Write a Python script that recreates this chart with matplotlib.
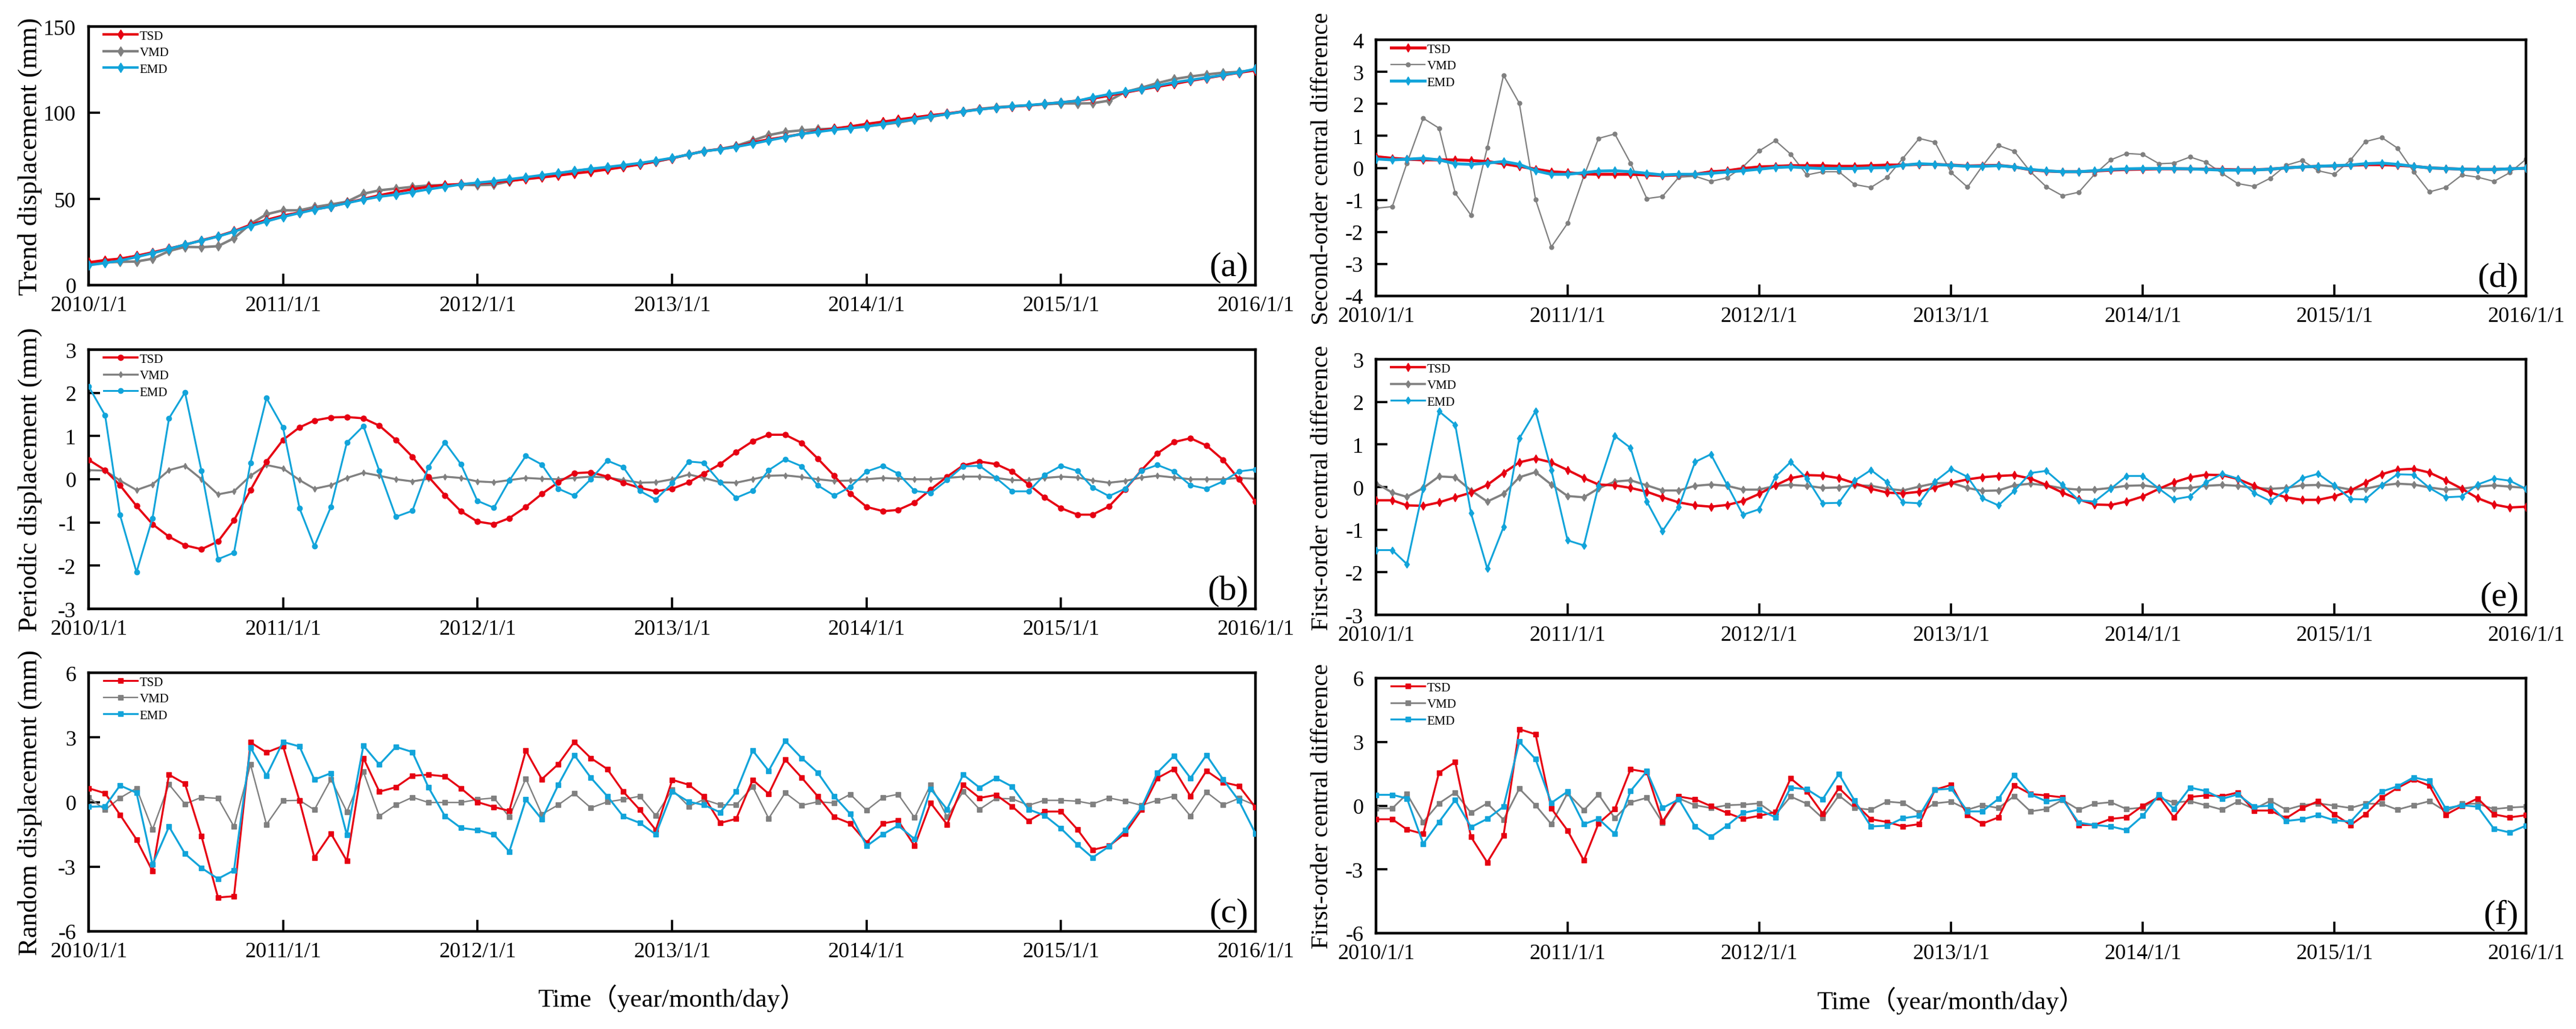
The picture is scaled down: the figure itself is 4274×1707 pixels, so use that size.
import numpy as np
import pandas as pd
import matplotlib
matplotlib.use('Agg')
import matplotlib.pyplot as plt

# ---------------- data ----------------
dates = pd.date_range('2010-01-01', periods=73, freq='MS')
year_ticks = pd.date_range('2010-01-01', '2016-01-01', freq='YS')
tick_labels = ['2010/1/1', '2011/1/1', '2012/1/1', '2013/1/1', '2014/1/1', '2015/1/1', '2016/1/1']
series_names = ['TSD', 'VMD', 'EMD']

# (a) Trend displacement
tsd_a = [13.2, 14.5, 15.3, 17.0, 19.0, 21.2, 23.4, 26.0, 28.4, 31.3, 35.0, 37.8,
         40.3, 42.1, 44.0, 45.6, 47.8, 49.9, 52.1, 54.0, 55.6, 57.1, 58.1, 58.6,
         59.0, 59.6, 60.5, 61.5, 62.5, 63.6, 64.8, 65.8, 67.1, 68.5, 70.0, 71.8,
         73.6, 75.8, 77.7, 78.9, 80.4, 82.7, 84.5, 86.0, 87.7, 89.5, 90.8, 92.0,
         93.5, 94.8, 96.0, 97.3, 98.5, 99.5, 100.7, 102.0, 102.9, 103.6, 104.2, 105.1,
         106.0, 107.0, 108.2, 109.9, 111.7, 113.5, 115.1, 116.7, 118.5, 120.1, 121.7, 123.2, 124.6]
vmd_a = [12.5, 13.2, 13.5, 13.7, 15.3, 19.8, 22.2, 22.0, 22.6, 27.2, 35.5, 41.1,
         43.4, 43.4, 45.3, 46.8, 48.4, 53.0, 55.0, 56.0, 57.0, 57.8, 58.0, 58.2,
         58.0, 58.3, 60.2, 62.0, 63.3, 64.8, 66.2, 67.3, 68.2, 69.2, 70.2, 71.6,
         73.6, 75.8, 77.7, 79.0, 80.8, 83.9, 87.0, 88.9, 89.8, 90.4, 90.8, 91.3,
         92.2, 93.2, 94.3, 96.0, 97.6, 99.2, 100.8, 102.2, 103.2, 103.8, 104.3, 104.9,
         105.4, 105.4, 105.5, 107.0, 112.0, 114.5, 117.2, 119.5, 121.0, 122.2, 123.2, 123.7, 124.8]
emd_a = [11.6, 12.8, 14.2, 16.3, 18.5, 21.0, 23.5, 25.8, 28.2, 31.0, 34.3, 37.0,
         39.6, 41.8, 43.8, 45.6, 47.6, 49.6, 51.3, 52.5, 54.0, 55.6, 57.0, 58.4,
         59.4, 60.3, 61.4, 62.6, 63.8, 65.0, 66.3, 67.5, 68.5, 69.6, 70.8, 72.2,
         73.8, 75.8, 77.6, 78.8, 80.2, 82.0, 83.9, 85.8, 87.7, 88.9, 90.1, 91.0,
         92.0, 93.5, 94.8, 96.3, 97.8, 99.2, 100.6, 101.9, 102.9, 103.7, 104.4, 105.2,
         106.0, 106.9, 108.9, 110.7, 112.2, 113.8, 115.7, 117.6, 119.0, 120.4, 121.9, 123.4, 125.4]

# (b) Periodic displacement
tsd_b = [0.45, 0.21, -0.14, -0.62, -1.04, -1.33, -1.53, -1.62, -1.44, -0.95, -0.25, 0.41,
         0.91, 1.20, 1.36, 1.43, 1.44, 1.41, 1.24, 0.91, 0.52, 0.06, -0.37, -0.74,
         -0.98, -1.04, -0.90, -0.64, -0.34, -0.07, 0.14, 0.16, 0.06, -0.08, -0.20, -0.28,
         -0.22, -0.07, 0.13, 0.35, 0.63, 0.88, 1.03, 1.03, 0.84, 0.48, 0.08, -0.33,
         -0.64, -0.74, -0.71, -0.54, -0.24, 0.06, 0.32, 0.41, 0.35, 0.18, -0.12, -0.42,
         -0.67, -0.82, -0.82, -0.63, -0.24, 0.21, 0.60, 0.86, 0.95, 0.78, 0.45, 0.00, -0.52]
vmd_b = [0.21, 0.20, -0.03, -0.25, -0.12, 0.21, 0.31, 0.00, -0.35, -0.28, 0.08, 0.33,
         0.25, -0.02, -0.22, -0.14, 0.03, 0.15, 0.08, 0.00, -0.05, 0.01, 0.06, 0.03,
         -0.05, -0.07, -0.02, 0.03, 0.01, 0.00, 0.03, 0.06, 0.04, -0.02, -0.08, -0.07,
         0.00, 0.11, 0.03, -0.07, -0.08, 0.00, 0.08, 0.09, 0.05, 0.00, -0.04, -0.03,
         0.00, 0.03, 0.01, 0.00, 0.00, 0.03, 0.06, 0.06, 0.03, -0.02, -0.02, 0.03,
         0.06, 0.04, -0.03, -0.08, -0.04, 0.04, 0.08, 0.04, 0.00, 0.00, 0.00, 0.03, 0.01]
emd_b = [2.15, 1.48, -0.83, -2.15, -0.90, 1.41, 2.01, 0.19, -1.85, -1.70, 0.38, 1.88,
         1.20, -0.67, -1.55, -0.64, 0.85, 1.23, 0.19, -0.87, -0.73, 0.28, 0.85, 0.35,
         -0.50, -0.66, -0.03, 0.54, 0.34, -0.22, -0.38, 0.00, 0.43, 0.28, -0.27, -0.47,
         -0.09, 0.41, 0.38, -0.07, -0.43, -0.27, 0.21, 0.46, 0.30, -0.14, -0.38, -0.18,
         0.18, 0.31, 0.13, -0.27, -0.32, -0.02, 0.30, 0.31, 0.03, -0.28, -0.28, 0.10,
         0.31, 0.19, -0.19, -0.39, -0.22, 0.20, 0.33, 0.18, -0.14, -0.22, -0.05, 0.18, 0.23]

# (c) Random displacement
tsd_c = [0.64, 0.41, -0.59, -1.74, -3.21, 1.27, 0.85, -1.59, -4.43, -4.37, 2.77, 2.30,
         2.60, 0.06, -2.58, -1.46, -2.73, 2.04, 0.48, 0.69, 1.22, 1.27, 1.19, 0.64,
         0.00, -0.23, -0.41, 2.39, 1.06, 1.76, 2.79, 2.04, 1.53, 0.48, -0.36, -1.30,
         1.03, 0.80, 0.27, -0.97, -0.78, 1.03, 0.38, 1.97, 1.13, 0.27, -0.69, -0.99,
         -1.88, -0.99, -0.86, -2.04, -0.04, -1.04, 0.80, 0.19, 0.33, -0.20, -0.88, -0.44,
         -0.44, -1.28, -2.22, -2.04, -1.46, -0.36, 1.11, 1.53, 0.27, 1.45, 0.92, 0.75, -0.25]
vmd_c = [0.22, -0.36, 0.19, 0.64, -1.28, 0.82, -0.09, 0.22, 0.17, -1.14, 1.74, -1.04,
         0.06, 0.08, -0.36, 1.06, -0.45, 1.40, -0.65, -0.13, 0.22, -0.02, -0.02, -0.02,
         0.12, 0.19, -0.69, 1.09, -0.57, -0.13, 0.40, -0.27, 0.01, 0.12, 0.27, -0.63,
         0.57, -0.20, 0.12, -0.13, -0.13, 0.71, -0.76, 0.43, -0.15, 0.01, -0.04, 0.36,
         -0.38, 0.22, 0.36, -0.72, 0.80, -0.69, 0.48, -0.34, 0.17, 0.15, -0.15, 0.08,
         0.08, 0.04, -0.09, 0.19, 0.04, -0.15, 0.08, 0.27, -0.65, 0.46, -0.13, 0.17, -0.15]
emd_c = [-0.22, -0.20, 0.77, 0.43, -2.90, -1.14, -2.40, -3.06, -3.56, -3.17, 2.53, 1.22,
         2.79, 2.58, 1.04, 1.34, -1.53, 2.62, 1.74, 2.56, 2.32, 0.69, -0.65, -1.20,
         -1.30, -1.51, -2.30, 0.12, -0.80, 0.80, 2.18, 1.13, 0.27, -0.67, -0.97, -1.50,
         0.48, 0.01, -0.13, -0.48, 0.48, 2.39, 1.45, 2.84, 2.04, 1.37, 0.27, -0.55,
         -2.04, -1.49, -1.09, -1.72, 0.61, -0.34, 1.27, 0.67, 1.11, 0.72, -0.34, -0.62,
         -1.23, -1.98, -2.58, -2.06, -1.30, -0.25, 1.37, 2.14, 1.11, 2.18, 1.06, 0.06, -1.46]

# (d) Second-order central difference
tsd_d = [0.35, 0.30, 0.27, 0.25, 0.25, 0.25, 0.23, 0.20, 0.13, 0.05, -0.04, -0.12,
         -0.15, -0.19, -0.20, -0.20, -0.20, -0.22, -0.24, -0.22, -0.20, -0.12, -0.09, -0.02,
         0.03, 0.05, 0.07, 0.07, 0.07, 0.05, 0.05, 0.07, 0.09, 0.09, 0.11, 0.11,
         0.09, 0.06, 0.07, 0.08, 0.03, -0.06, -0.10, -0.12, -0.12, -0.10, -0.07, -0.05,
         -0.04, -0.03, -0.03, -0.03, -0.04, -0.05, -0.06, -0.06, -0.04, 0.00, 0.03, 0.05,
         0.06, 0.08, 0.10, 0.10, 0.08, 0.05, 0.00, -0.02, -0.04, -0.05, -0.05, -0.03, -0.01]
vmd_d = [-1.26, -1.21, 0.15, 1.55, 1.24, -0.79, -1.48, 0.63, 2.89, 2.02, -0.99, -2.47,
         -1.73, -0.26, 0.92, 1.06, 0.15, -0.96, -0.89, -0.29, -0.26, -0.42, -0.31, 0.03,
         0.53, 0.85, 0.43, -0.22, -0.12, -0.12, -0.52, -0.61, -0.29, 0.30, 0.92, 0.80,
         -0.15, -0.60, 0.05, 0.70, 0.52, -0.12, -0.59, -0.87, -0.76, -0.20, 0.25, 0.45,
         0.42, 0.13, 0.15, 0.34, 0.18, -0.17, -0.49, -0.58, -0.32, 0.08, 0.23, -0.09,
         -0.20, 0.25, 0.82, 0.95, 0.62, -0.12, -0.75, -0.61, -0.22, -0.29, -0.42, -0.15, 0.27]
emd_d = [0.28, 0.25, 0.27, 0.30, 0.25, 0.13, 0.11, 0.15, 0.20, 0.11, -0.09, -0.20,
         -0.20, -0.15, -0.10, -0.09, -0.12, -0.17, -0.22, -0.20, -0.20, -0.17, -0.13, -0.09,
         -0.04, 0.01, 0.03, 0.00, -0.02, -0.02, -0.02, 0.00, 0.01, 0.08, 0.13, 0.11,
         0.08, 0.05, 0.05, 0.07, 0.03, -0.05, -0.09, -0.12, -0.12, -0.09, -0.05, -0.03,
         -0.02, -0.02, -0.02, -0.03, -0.05, -0.07, -0.07, -0.07, -0.04, 0.00, 0.03, 0.05,
         0.07, 0.09, 0.13, 0.15, 0.11, 0.05, 0.00, -0.02, -0.04, -0.05, -0.05, -0.03, -0.01]

# (e) First-order central difference (periodic)
tsd_e = [-0.31, -0.31, -0.43, -0.44, -0.36, -0.24, -0.13, 0.05, 0.33, 0.58, 0.67, 0.58,
         0.40, 0.21, 0.06, 0.04, -0.02, -0.11, -0.24, -0.36, -0.43, -0.46, -0.42, -0.33,
         -0.16, 0.04, 0.21, 0.28, 0.27, 0.21, 0.09, -0.04, -0.13, -0.15, -0.11, -0.01,
         0.10, 0.18, 0.23, 0.26, 0.28, 0.20, 0.05, -0.13, -0.29, -0.41, -0.42, -0.34,
         -0.22, -0.04, 0.11, 0.23, 0.29, 0.28, 0.19, 0.03, -0.13, -0.24, -0.30, -0.30,
         -0.22, -0.08, 0.10, 0.30, 0.41, 0.43, 0.34, 0.16, -0.04, -0.26, -0.41, -0.48, -0.46]
vmd_e = [0.09, -0.13, -0.23, -0.02, 0.25, 0.23, -0.08, -0.34, -0.16, 0.23, 0.35, 0.06,
         -0.21, -0.24, -0.03, 0.13, 0.16, 0.04, -0.08, -0.08, 0.03, 0.06, 0.03, -0.06,
         -0.06, 0.03, 0.05, 0.03, -0.02, -0.01, 0.04, 0.03, -0.04, -0.08, 0.01, 0.09,
         0.10, -0.02, -0.09, -0.08, 0.04, 0.08, 0.04, -0.03, -0.06, -0.06, -0.02, 0.03,
         0.04, -0.01, -0.03, -0.02, 0.03, 0.05, 0.03, -0.02, -0.04, -0.02, 0.04, 0.05,
         0.01, -0.06, -0.04, 0.04, 0.08, 0.06, -0.01, -0.06, -0.04, 0.01, 0.04, 0.01, -0.02]
emd_e = [-1.48, -1.48, -1.81, -0.04, 1.78, 1.46, -0.61, -1.91, -0.94, 1.14, 1.78, 0.40,
         -1.25, -1.37, 0.03, 1.20, 0.92, -0.34, -1.03, -0.46, 0.59, 0.77, 0.05, -0.65,
         -0.52, 0.24, 0.59, 0.20, -0.38, -0.37, 0.15, 0.40, 0.11, -0.36, -0.38, 0.13,
         0.43, 0.24, -0.26, -0.43, -0.09, 0.33, 0.38, 0.05, -0.31, -0.34, -0.04, 0.26,
         0.26, -0.04, -0.29, -0.22, 0.11, 0.31, 0.20, -0.14, -0.33, -0.07, 0.21, 0.31,
         0.04, -0.28, -0.29, 0.04, 0.30, 0.29, -0.02, -0.24, -0.22, 0.06, 0.20, 0.15, -0.04]

# (f) First-order central difference (random)
tsd_f = [-0.64, -0.64, -1.12, -1.33, 1.55, 2.05, -1.47, -2.67, -1.41, 3.60, 3.36, -0.13,
         -1.17, -2.58, -0.83, -0.16, 1.71, 1.58, -0.75, 0.43, 0.30, -0.02, -0.34, -0.62,
         -0.48, -0.30, 1.28, 0.66, -0.37, 0.83, 0.11, -0.64, -0.77, -0.98, -0.87, 0.75,
         0.98, -0.45, -0.85, -0.55, 0.96, 0.55, 0.48, 0.39, -0.91, -0.91, -0.62, -0.55,
         0.00, 0.41, -0.55, 0.41, 0.48, 0.45, 0.62, -0.23, -0.23, -0.59, -0.11, 0.21,
         -0.41, -0.91, -0.41, 0.37, 0.83, 1.23, 0.94, -0.43, -0.02, 0.34, -0.41, -0.55, -0.45]
vmd_f = [-0.13, -0.13, 0.55, -0.77, 0.11, 0.62, -0.34, 0.11, -0.66, 0.80, 0.02, -0.87,
         0.59, -0.21, 0.53, -0.59, 0.16, 0.37, -0.80, 0.34, 0.02, -0.11, 0.02, 0.05,
         0.11, -0.43, 0.43, 0.09, -0.59, 0.48, -0.11, -0.19, 0.19, 0.13, -0.34, 0.11,
         0.19, -0.19, 0.02, -0.11, 0.45, -0.27, -0.16, 0.27, -0.19, 0.09, 0.16, -0.16,
         -0.09, 0.37, 0.15, 0.21, 0.02, -0.19, 0.19, -0.16, 0.23, -0.19, 0.02, 0.11,
         0.00, -0.11, 0.09, 0.09, -0.19, 0.02, 0.21, -0.27, 0.09, 0.09, -0.16, -0.09, -0.05]
emd_f = [0.51, 0.51, 0.34, -1.79, -0.77, 0.27, -1.01, -0.62, -0.05, 3.01, 2.19, 0.13,
         0.66, -0.87, -0.62, -1.33, 0.69, 1.62, -0.11, 0.30, -0.98, -1.47, -0.94, -0.34,
         -0.19, -0.55, 0.85, 0.77, 0.30, 1.49, 0.23, -0.98, -0.94, -0.59, -0.48, 0.75,
         0.80, -0.27, -0.27, 0.32, 1.44, 0.53, 0.21, 0.30, -0.80, -0.91, -0.98, -1.15,
         -0.48, 0.53, -0.16, 0.85, 0.69, 0.32, 0.53, -0.05, 0.00, -0.72, -0.64, -0.45,
         -0.69, -0.75, 0.00, 0.66, 0.91, 1.33, 1.17, -0.13, 0.02, -0.05, -1.09, -1.26, -0.94]

# ---------------- style ----------------
plt.rcParams['font.family'] = ['Liberation Serif', 'Noto Sans CJK SC', 'DejaVu Sans']
plt.rcParams['axes.unicode_minus'] = False

COL = {'TSD': '#E60012', 'VMD': '#808080', 'EMD': '#12A4DA'}
ZO = {'TSD': 3, 'VMD': 2, 'EMD': 4}

W, H = 4274, 1708
fig = plt.figure(figsize=(W / 100, H / 100), dpi=100)


def add_ax(l, t, r, b):
    return fig.add_axes([l / W, 1 - b / H, (r - l) / W, (b - t) / H])


panels = [
    # box, data, ylim, yticks, ylabel, letter, markers, marker sizes, line widths, ylabel size, label x
    dict(box=(147, 45, 2083, 474), data=(tsd_a, vmd_a, emd_a), ylim=(0, 150), yticks=[0, 50, 100, 150],
         ylabel='Trend displacement (mm)', letter='(a)', mk=('d', 'd', 'd'), ms=(8, 8, 8), lw=(3.0, 3.0, 3.0),
         ylsize=32, lx=-0.040),
    dict(box=(147, 581, 2083, 1011), data=(tsd_b, vmd_b, emd_b), ylim=(-3, 3), yticks=[-3, -2, -1, 0, 1, 2, 3],
         ylabel='Periodic displacement (mm)', letter='(b)', mk=('o', 'd', 'o'), ms=(6.5, 5, 6), lw=(2.6, 2.4, 2.2),
         ylsize=32, lx=-0.040),
    dict(box=(147, 1117, 2083, 1546), data=(tsd_c, vmd_c, emd_c), ylim=(-6, 6), yticks=[-6, -3, 0, 3, 6],
         ylabel='Random displacement (mm)', letter='(c)', mk=('s', 's', 's'), ms=(5.5, 5.5, 5.5), lw=(2.3, 1.7, 2.3),
         ylsize=32, lx=-0.040),
    dict(box=(2283, 67, 4191, 492), data=(tsd_d, vmd_d, emd_d), ylim=(-4, 4), yticks=[-4, -3, -2, -1, 0, 1, 2, 3, 4],
         ylabel='Second-order central difference', letter='(d)', mk=('d', 'o', 'd'), ms=(7, 5, 7), lw=(3.5, 1.6, 3.5),
         ylsize=29.5, lx=-0.037),
    dict(box=(2283, 597, 4191, 1021), data=(tsd_e, vmd_e, emd_e), ylim=(-3, 3), yticks=[-3, -2, -1, 0, 1, 2, 3],
         ylabel='First-order central difference', letter='(e)', mk=('d', 'd', 'd'), ms=(7, 6, 6.5), lw=(2.8, 2.6, 2.2),
         ylsize=29.5, lx=-0.037),
    dict(box=(2283, 1126, 4191, 1549), data=(tsd_f, vmd_f, emd_f), ylim=(-6, 6), yticks=[-6, -3, 0, 3, 6],
         ylabel='First-order central difference', letter='(f)', mk=('s', 's', 's'), ms=(5.5, 5.5, 5.5), lw=(2.3, 2.0, 2.3),
         ylsize=29.5, lx=-0.037),
]

for p in panels:
    l, t, r, b = p['box']
    ax = add_ax(l, t, r, b)
    axw, axh = r - l, b - t
    for k, name in enumerate(series_names):
        ax.plot(dates, p['data'][k], color=COL[name], lw=p['lw'][k], marker=p['mk'][k],
                ms=p['ms'][k], mfc=COL[name], mec=COL[name], label=name, zorder=ZO[name])
    ax.set_xlim(year_ticks[0], year_ticks[-1])
    ax.set_xticks(year_ticks)
    ax.set_xticklabels(tick_labels)
    ax.set_ylim(*p['ylim'])
    ax.set_yticks(p['yticks'])
    ax.set_yticklabels([str(v) for v in p['yticks']])
    ax.tick_params(axis='both', direction='in', length=14, width=2.6, labelsize=26,
                   top=False, right=False)
    ax.tick_params(axis='x', pad=12)
    ax.tick_params(axis='y', pad=15)
    for s in ax.spines.values():
        s.set_linewidth(3.2)
    ax.set_ylabel(p['ylabel'], fontsize=p['ylsize'])
    ax.yaxis.set_label_coords(p['lx'], 0.5)
    leg = ax.legend(loc='upper left', bbox_to_anchor=(25 / axw, 1 - 6 / axh), frameon=False,
                    fontsize=15, handlelength=2.7, handletextpad=0.15, labelspacing=0.38,
                    borderpad=0, borderaxespad=0)
    ax.text(1 - 12 / axw, 4 / axh, p['letter'], transform=ax.transAxes, ha='right', va='bottom',
            fontsize=42)

fig.text((147 + 2083) / 2 / W, 1 - 1656 / H, 'Time（year/month/day）', ha='center', va='center', fontsize=31)
fig.text((2283 + 4191) / 2 / W, 1 - 1660 / H, 'Time（year/month/day）', ha='center', va='center', fontsize=31)

fig.savefig('out.png', dpi=100, facecolor='white')
